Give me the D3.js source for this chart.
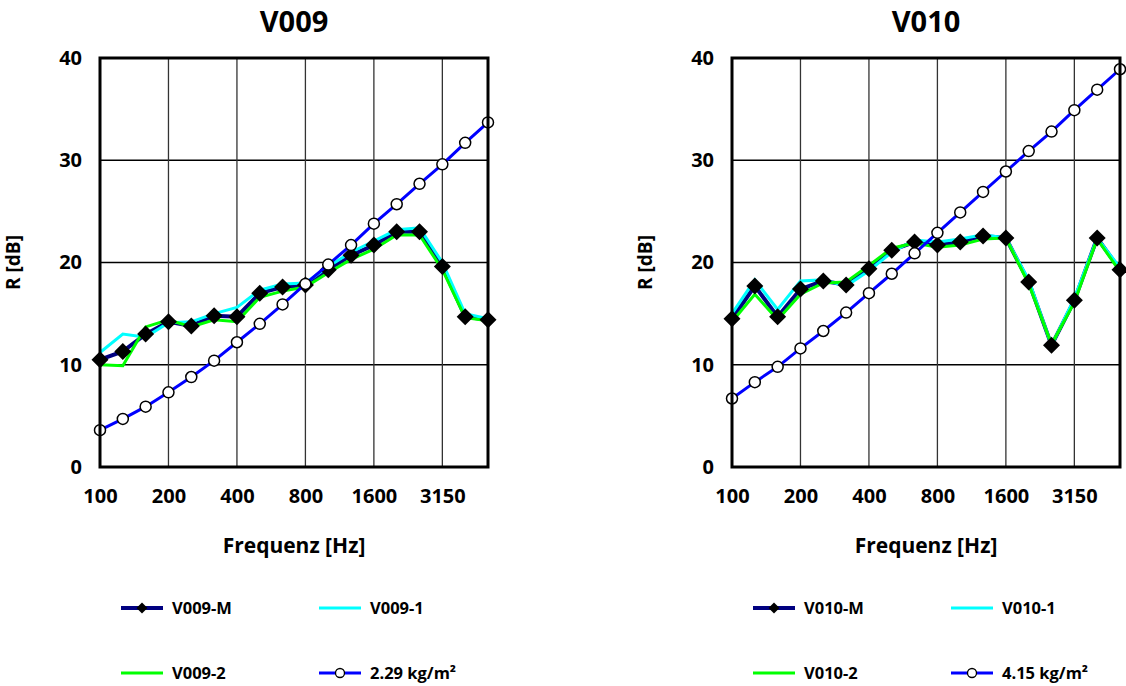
<!DOCTYPE html>
<html><head><meta charset="utf-8">
<script src="https://cdn.jsdelivr.net/npm/d3@7/dist/d3.min.js"></script>
<style>
body{margin:0;background:#fff;}
text{font-family:"Open Sans",sans-serif;font-weight:bold;fill:#000;}
</style></head>
<body><svg id="c" width="1126" height="686"></svg>
<script>
const freqs = ["100","125","160","200","250","315","400","500","630","800","1000","1250","1600","2000","2500","3150","4000","5000"];
const tickLabels = ["100","200","400","800","1600","3150"];
const yTicks = [0,10,20,30,40];

// Panel V009
const v009M = [10.5,11.3,13.0,14.2,13.8,14.8,14.7,17.0,17.6,17.8,19.3,20.7,21.7,23.0,23.0,19.6,14.7,14.4];
const v009_1 = [11.2,13.0,12.7,14.1,14.2,15.0,15.6,17.3,17.9,18.0,19.6,21.0,22.1,23.2,23.4,20.0,15.0,14.5];
const v009_2 = [10.0,9.9,13.7,14.4,13.7,14.4,14.2,16.6,17.2,17.6,19.0,20.3,21.3,22.7,22.7,19.3,14.6,14.3];
const mass229 = [3.6,4.7,5.9,7.3,8.8,10.4,12.2,14.0,15.9,17.9,19.8,21.7,23.8,25.7,27.7,29.6,31.7,33.7];

// Panel V010
const v010M = [14.5,17.7,14.7,17.4,18.2,17.8,19.4,21.2,22.0,21.7,22.0,22.6,22.4,18.1,11.9,16.3,22.4,19.3];
const v010_1 = [15.0,18.3,15.4,18.2,18.3,17.7,19.2,21.0,22.2,22.0,22.3,22.7,22.4,18.3,11.9,16.5,22.4,19.5];
const v010_2 = [14.2,16.9,14.4,16.9,18.0,18.1,19.7,21.4,21.9,21.5,21.7,22.3,22.4,17.9,12.0,16.1,22.3,19.1];
const mass415 = [6.7,8.3,9.8,11.6,13.3,15.1,17.0,18.9,20.9,22.9,24.9,26.9,28.9,30.9,32.8,34.9,36.9,38.9];

const panels = [
  {title:"V009", left:100, M:v009M, s1:v009_1, s2:v009_2, mass:mass229,
   names:["V009-M","V009-1","V009-2","2.29 kg/m²"]},
  {title:"V010", left:732, M:v010M, s1:v010_1, s2:v010_2, mass:mass415,
   names:["V010-M","V010-1","V010-2","4.15 kg/m²"]}
];

const svg = d3.select("#c");
const W = 388, topY = 58, H = 409;
const diamond = h => `M0,${-h}L${h},0L0,${h}L${-h},0Z`;

panels.forEach(p => {
  const g = svg.append("g").attr("transform", `translate(${p.left},${topY})`);
  const x = d3.scalePoint().domain(freqs).range([0, W]);
  const y = d3.scaleLinear().domain([0, 40]).range([H, 0]);

  // grid
  g.append("g").selectAll("line").data([10,20,30]).join("line")
    .attr("x1",0).attr("x2",W).attr("y1",d=>y(d)).attr("y2",d=>y(d))
    .attr("stroke","#000").attr("stroke-width",1.5);
  g.append("g").selectAll("line").data(tickLabels.slice(1)).join("line")
    .attr("x1",d=>x(d)).attr("x2",d=>x(d)).attr("y1",0).attr("y2",H)
    .attr("stroke","#333").attr("stroke-width",1.3);

  // axes labels
  const ax = g.append("g").attr("transform",`translate(0,${H})`)
    .call(d3.axisBottom(x).tickValues(tickLabels).tickSize(0).tickPadding(22));
  ax.select(".domain").remove();
  ax.selectAll("text").style("font-size","20px").style("font-family","Open Sans").style("font-weight","bold");

  const ay = g.append("g")
    .call(d3.axisLeft(y).tickValues(yTicks).tickSize(0).tickPadding(18));
  ay.select(".domain").remove();
  ay.selectAll("text").style("font-size","20px").style("font-family","Open Sans").style("font-weight","bold");

  // lines
  const line = d3.line().x((d,i)=>x(freqs[i])).y(d=>y(d));
  g.append("path").datum(p.M).attr("d",line).attr("fill","none").attr("stroke","#000080").attr("stroke-width",4);
  g.append("path").datum(p.s1).attr("d",line).attr("fill","none").attr("stroke","#00ffff").attr("stroke-width",3);
  g.append("path").datum(p.s2).attr("d",line).attr("fill","none").attr("stroke","#00ff00").attr("stroke-width",3);
  g.append("g").selectAll("path").data(p.M).join("path")
    .attr("d",diamond(8.5)).attr("transform",(d,i)=>`translate(${x(freqs[i])},${y(d)})`).attr("fill","#000");
  g.append("path").datum(p.mass).attr("d",line).attr("fill","none").attr("stroke","#0000ff").attr("stroke-width",3);
  g.append("g").selectAll("circle").data(p.mass).join("circle")
    .attr("cx",(d,i)=>x(freqs[i])).attr("cy",d=>y(d)).attr("r",5.5)
    .attr("fill","#fff").attr("stroke","#000").attr("stroke-width",1.5);

  // frame
  g.append("rect").attr("x",0).attr("y",0).attr("width",W).attr("height",H)
    .attr("fill","none").attr("stroke","#000").attr("stroke-width",3);

  // titles
  svg.append("text").attr("x",p.left+W/2).attr("y",32).attr("text-anchor","middle")
    .style("font-size","29px").text(p.title);
  svg.append("text").attr("x",p.left+W/2).attr("y",553).attr("text-anchor","middle")
    .style("font-size","21px").text("Frequenz [Hz]");
  svg.append("text").attr("transform",`translate(${p.left-80},${topY+H/2}) rotate(-90)`)
    .attr("text-anchor","middle").style("font-size","19px").text("R [dB]");

  // legend
  const lg = svg.append("g");
  const items = [
    {col:0,row:0,color:"#000080",w:4,marker:"d",name:p.names[0]},
    {col:1,row:0,color:"#00ffff",w:3,marker:null,name:p.names[1]},
    {col:0,row:1,color:"#00ff00",w:3,marker:null,name:p.names[2]},
    {col:1,row:1,color:"#0000ff",w:3,marker:"c",name:p.names[3]}
  ];
  items.forEach(it => {
    const lx = p.left + 21 + it.col*198, ly = 608 + it.row*65;
    lg.append("line").attr("x1",lx).attr("x2",lx+42).attr("y1",ly).attr("y2",ly)
      .attr("stroke",it.color).attr("stroke-width",it.w);
    if (it.marker==="d") lg.append("path").attr("d",diamond(5.5)).attr("transform",`translate(${lx+21},${ly})`).attr("fill","#000");
    if (it.marker==="c") lg.append("circle").attr("cx",lx+21).attr("cy",ly).attr("r",4.5).attr("fill","#fff").attr("stroke","#000").attr("stroke-width",1.3);
    lg.append("text").attr("x",lx+51).attr("y",ly).attr("dy","0.35em").style("font-size","16.5px").text(it.name);
  });
});
</script></body></html>
